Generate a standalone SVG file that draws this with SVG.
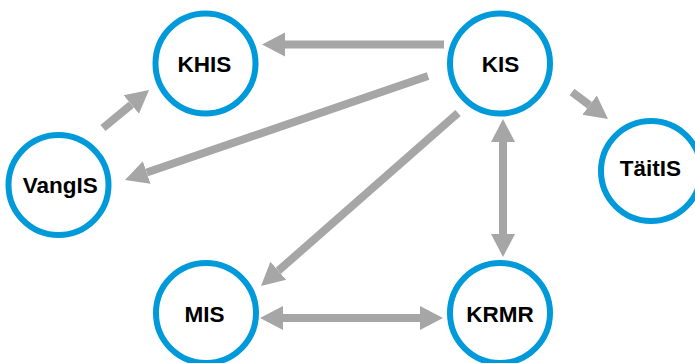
<svg xmlns="http://www.w3.org/2000/svg" width="695" height="363" viewBox="0 0 695 363">
<style>
.node circle{fill:#fff;stroke:#009ADB;stroke-width:6}
.node text{font-family:"Liberation Sans",Arial,sans-serif;font-weight:bold;font-size:22.5px;fill:#000;text-anchor:middle}
.edge{stroke:#A6A6A6;stroke-width:8;fill:none;marker-end:url(#ah)}
.both{marker-start:url(#ah)}
</style>
<defs>
<marker id="ah" markerUnits="userSpaceOnUse" markerWidth="24" markerHeight="26" viewBox="0 -13 24 26" refX="0" refY="0" orient="auto-start-reverse">
<path d="M0,-12 L23,0 L0,12 z" fill="#A6A6A6"/>
</marker>
</defs>
<rect width="695" height="363" fill="#fff"/>
<g id="connectors">
<line class="edge" x1="444" y1="44.5" x2="285" y2="44.5"/>
<line class="edge" x1="428" y1="76" x2="146.75" y2="172.5"/>
<line class="edge" x1="103" y1="128" x2="131.3" y2="104.6"/>
<line class="edge" x1="458" y1="113" x2="278.3" y2="270.8"/>
<line class="edge both" x1="283" y1="318" x2="420" y2="318"/>
<line class="edge both" x1="503" y1="142" x2="503" y2="234"/>
<line class="edge" x1="572" y1="92" x2="589.6" y2="105.2"/>
</g>
<g id="KHIS" class="node"><circle cx="205.5" cy="63.5" r="50"/><text x="204.5" y="71.7">KHIS</text></g>
<g id="KIS" class="node"><circle cx="500" cy="63.5" r="50"/><text x="500.5" y="71.7">KIS</text></g>
<g id="VangIS" class="node"><circle cx="58.5" cy="185" r="50"/><text x="60.3" y="192.7">VangIS</text></g>
<g id="TaitIS" class="node"><circle cx="651" cy="171" r="50"/><text x="650.5" y="176">TäitIS</text></g>
<g id="MIS" class="node"><circle cx="206" cy="313" r="50"/><text x="204.5" y="321.7">MIS</text></g>
<g id="KRMR" class="node"><circle cx="500" cy="313" r="50"/><text x="500" y="321.7">KRMR</text></g>
</svg>
